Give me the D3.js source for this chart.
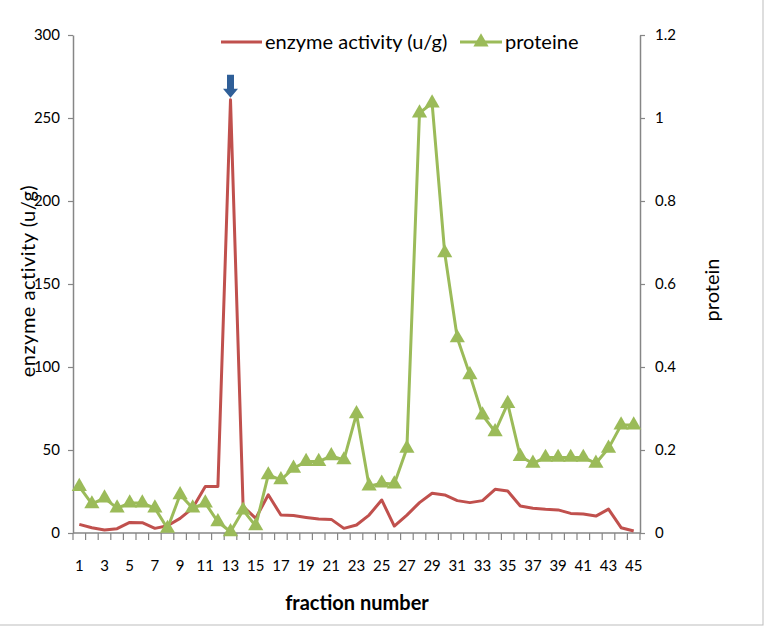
<!DOCTYPE html>
<html>
<head>
<meta charset="utf-8">
<script src="https://cdn.jsdelivr.net/npm/d3@7"></script>
<style>
  html, body { margin: 0; padding: 0; background: #fff; }
  svg { display: block; font-family: Lato, "Open Sans", sans-serif; }
</style>
</head>
<body>
<svg id="chart" width="766" height="628"></svg>
<script>
const fractions = d3.range(1, 46);
const enzymeActivity = [5.2, 3.2, 1.8, 2.6, 6.4, 6.2, 2.8, 4.4, 8.8, 15, 28, 28, 261, 16, 8.8, 23, 10.8, 10.5, 9.4, 8.4, 8.2, 2.8, 4.8, 10.8, 19.9, 4.2, 10.8, 18.3, 23.9, 22.9, 19.5, 18.3, 19.5, 26.3, 25.3, 16.3, 14.9, 14.3, 13.9, 11.8, 11.4, 10.2, 14.4, 3.2, 1.2];
const protein = [0.112, 0.07, 0.084, 0.06, 0.072, 0.072, 0.06, 0.011, 0.092, 0.06, 0.072, 0.027, 0.003, 0.055, 0.017, 0.14, 0.128, 0.156, 0.172, 0.172, 0.186, 0.176, 0.287, 0.113, 0.12, 0.118, 0.204, 1.012, 1.036, 0.675, 0.47, 0.381, 0.284, 0.244, 0.312, 0.184, 0.168, 0.182, 0.182, 0.182, 0.182, 0.168, 0.204, 0.26, 0.26];
const leftTicks = [0, 50, 100, 150, 200, 250, 300];
const rightTicks = [0, 0.2, 0.4, 0.6, 0.8, 1, 1.2];
const xTickLabels = fractions.filter(d => d % 2 === 1);
const arrowFraction = 13;

(function () {
const svg = d3.select("#chart");
const pLeft = 73, pRight = 640, pTop = 35, pBottom = 533;
const red = "#C0504D", green = "#9BBB59", axisCol = "#868686", textCol = "#000";
const titleSize = 20;

svg.append("rect").attr("x", -2).attr("y", -2).attr("width", 765).attr("height", 627)
  .attr("fill", "none").attr("stroke", "#bdbdbd").attr("stroke-width", 1);

const x = d3.scaleBand().domain(fractions).range([pLeft, pRight]).padding(0);
const yL = d3.scaleLinear().domain([0, 300]).range([pBottom, pTop]);
const yR = d3.scaleLinear().domain([0, 1.2]).range([pBottom, pTop]);
const cx = d => x(d) + x.bandwidth() / 2;

const gL = svg.append("g").attr("transform", `translate(${pLeft},0)`)
  .call(d3.axisLeft(yL).tickValues(leftTicks).tickSize(5).tickPadding(8).tickSizeOuter(0));
const gR = svg.append("g").attr("transform", `translate(${pRight},0)`)
  .call(d3.axisRight(yR).tickValues(rightTicks).tickSize(5).tickPadding(10).tickSizeOuter(0)
    .tickFormat(d => d3.format("~g")(d)));
const gX = svg.append("g").attr("transform", `translate(0,${pBottom})`);
gX.append("line").attr("x1", pLeft).attr("x2", pRight).attr("y1", 0).attr("y2", 0)
  .attr("stroke", axisCol).attr("stroke-width", 1.5);
const boundaries = fractions.map(d => x(d)).concat([x(45) + x.bandwidth()]);
gX.selectAll("line.tk").data(boundaries).enter().append("line").attr("class", "tk")
  .attr("x1", d => d).attr("x2", d => d).attr("y1", 0).attr("y2", 7)
  .attr("stroke", axisCol).attr("stroke-width", 1.2);
gX.selectAll("text").data(xTickLabels).enter().append("text")
  .attr("x", d => cx(d)).attr("y", 38).attr("text-anchor", "middle")
  .attr("font-size", 15).attr("fill", textCol).text(d => d);

[gL, gR].forEach(g => {
  g.select(".domain").attr("stroke", axisCol).attr("stroke-width", 1.5);
  g.selectAll(".tick line").attr("stroke", axisCol).attr("stroke-width", 1.2);
  g.selectAll(".tick text").attr("font-size", 15).attr("fill", textCol)
    .attr("font-family", "Lato, 'Open Sans', sans-serif");
});

const lineE = d3.line().x((d, i) => cx(fractions[i])).y(d => yL(d));
const lineP = d3.line().x((d, i) => cx(fractions[i])).y(d => yR(d));
svg.append("path").datum(enzymeActivity).attr("d", lineE).attr("fill", "none")
  .attr("stroke", red).attr("stroke-width", 3).attr("stroke-linejoin", "round");
svg.append("path").datum(protein).attr("d", lineP).attr("fill", "none")
  .attr("stroke", green).attr("stroke-width", 3).attr("stroke-linejoin", "round");
const tri = d3.symbol().type(d3.symbolTriangle).size(100);
svg.selectAll("path.mk").data(protein).enter().append("path").attr("class", "mk")
  .attr("d", tri).attr("fill", green)
  .attr("transform", (d, i) => `translate(${cx(fractions[i])},${yR(d)})`);

const ax = cx(arrowFraction), ay = yL(enzymeActivity[arrowFraction - 1]);
svg.append("path").attr("fill", "#2F5F98")
  .attr("d", `M${ax-3.5},${ay-25} L${ax+3.5},${ay-25} L${ax+3.5},${ay-11} L${ax+7.5},${ay-11} L${ax},${ay-2} L${ax-7.5},${ay-11} L${ax-3.5},${ay-11} Z`);

svg.append("text").attr("transform", `translate(35,281) rotate(-90)`)
  .attr("text-anchor", "middle").attr("font-size", titleSize).attr("letter-spacing", 0.5)
  .attr("fill", textCol).text("enzyme activity (u/g)");
svg.append("text").attr("transform", `translate(719,290) rotate(-90)`)
  .attr("text-anchor", "middle").attr("font-size", titleSize).attr("fill", textCol)
  .text("protein");
svg.append("text").attr("x", 357).attr("y", 610).attr("text-anchor", "middle")
  .attr("font-size", titleSize).attr("font-weight", "bold").attr("fill", textCol)
  .text("fraction number");

const lg = svg.append("g");
lg.append("line").attr("x1", 221).attr("x2", 262).attr("y1", 42).attr("y2", 42)
  .attr("stroke", red).attr("stroke-width", 3);
lg.append("text").attr("x", 265).attr("y", 49).attr("font-size", titleSize)
  .attr("fill", textCol).text("enzyme activity (u/g)");
lg.append("line").attr("x1", 460).attr("x2", 502).attr("y1", 42).attr("y2", 42)
  .attr("stroke", green).attr("stroke-width", 3);
lg.append("path").attr("d", tri).attr("fill", green).attr("transform", "translate(481,42)");
lg.append("text").attr("x", 505).attr("y", 49).attr("font-size", titleSize)
  .attr("fill", textCol).text("proteine");
})();
</script>
</body>
</html>
